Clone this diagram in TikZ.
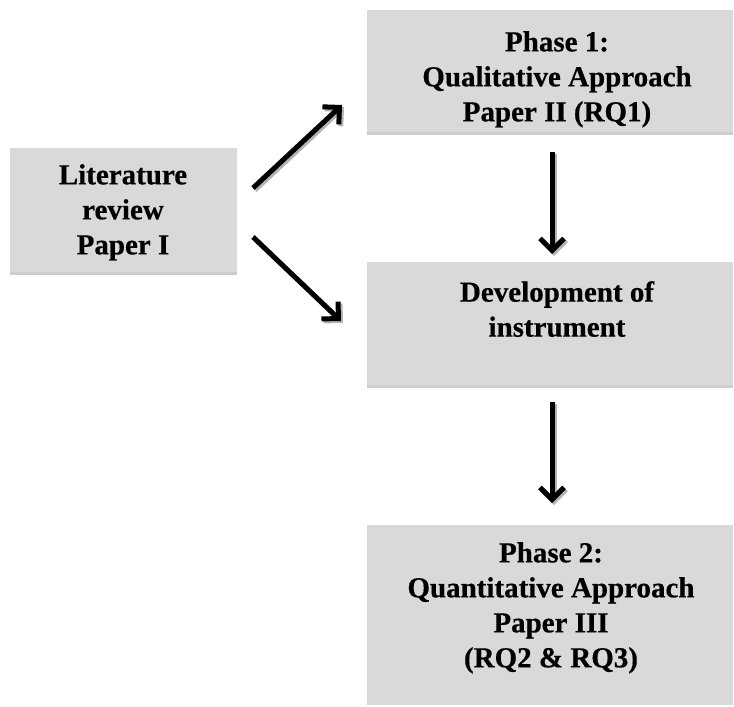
\documentclass[tikz,border=0pt]{standalone}
\usepackage{fontspec}
\setmainfont{Liberation Serif}[BoldFeatures={FakeBold=0.5}]
\usetikzlibrary{arrows.meta}
\definecolor{boxgray}{HTML}{D9D9D9}
\definecolor{boxedge}{HTML}{CDCDCD}
\definecolor{shadowgray}{HTML}{B4B4B4}
\tikzset{
  boxnode/.style={fill=boxgray, draw=none, inner sep=0pt, anchor=north west},
  boxtext/.style={font=\fontsize{29}{35}\selectfont\bfseries, align=center, inner sep=0pt, anchor=north, text=black},
  flowarrow/.style={line width=5pt, -{Straight Barb[length=12pt,width=24pt,line width=5pt]}},
  arrowshadow/.style={flowarrow, draw=shadowgray, transform canvas={xshift=2pt,yshift=-2pt}},
  arrowmain/.style={flowarrow, draw=black}
}
\begin{document}
\begin{tikzpicture}[x=1pt,y=-1pt]
\useasboundingbox (0,0) rectangle (734,707);
% boxes
\node[boxnode, minimum width=227pt, minimum height=127pt] (lit) at (10,148) {};
\node[boxnode, minimum width=366pt, minimum height=125pt] (p1) at (367,10) {};
\node[boxnode, minimum width=366pt, minimum height=126pt] (dev) at (367,262) {};
\node[boxnode, minimum width=366pt, minimum height=180pt] (p2) at (367,525) {};
% bottom shading strips
\fill[boxedge] (10,272) rectangle (237,275);
\fill[boxedge] (367,132) rectangle (733,135);
\fill[boxedge] (367,385) rectangle (733,388);
% texts
\node[boxtext] (litT) at (123,164) {Literature\\review\\Paper I};
\node[boxtext] (p1T) at (557,31) {Phase 1:\\Qualitative Approach\\Paper II (RQ1)};
\node[boxtext] (devT) at (557,281) {Development of\\instrument};
\node[boxtext] (p2T) at (551,542) {Phase 2:\\Quantitative Approach\\Paper III\\(RQ2 \& RQ3)};
% arrow endpoints
\coordinate (a1s) at (253,188);
\coordinate (a1t) at (342,105);
\coordinate (a2s) at (253,237);
\coordinate (a2t) at (341,321);
\coordinate (a3s) at (552,152);
\coordinate (a3t) at (552,254);
\coordinate (a4s) at (552,402);
\coordinate (a4t) at (552,503);
% arrows: shadows then arrows
\draw[arrowshadow] (a1s) -- (a1t);
\draw[arrowshadow] (a2s) -- (a2t);
\draw[arrowshadow] (a3s) -- (a3t);
\draw[arrowshadow] (a4s) -- (a4t);
\draw[arrowmain] (a1s) -- (a1t);
\draw[arrowmain] (a2s) -- (a2t);
\draw[arrowmain] (a3s) -- (a3t);
\draw[arrowmain] (a4s) -- (a4t);
\end{tikzpicture}
\end{document}
